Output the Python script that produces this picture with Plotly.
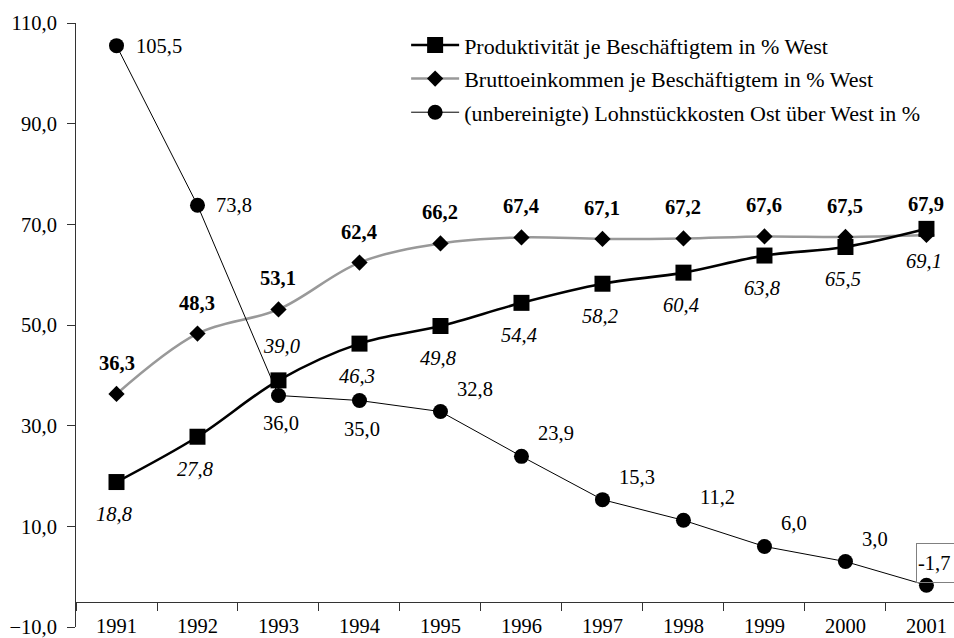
import plotly.graph_objects as go

# ---- data ----
years = ["1991", "1992", "1993", "1994", "1995", "1996", "1997", "1998", "1999", "2000", "2001"]
produktivitaet = [18.8, 27.8, 39.0, 46.3, 49.8, 54.4, 58.2, 60.4, 63.8, 65.5, 69.1]
bruttoeinkommen = [36.3, 48.3, 53.1, 62.4, 66.2, 67.4, 67.1, 67.2, 67.6, 67.5, 67.9]
lohnstueckkosten = [105.5, 73.8, 36.0, 35.0, 32.8, 23.9, 15.3, 11.2, 6.0, 3.0, -1.7]
y_tick_values = [-10, 10, 30, 50, 70, 90, 110]

name_prod = "Produktivität je Beschäftigtem in % West"
name_brutto = "Bruttoeinkommen je Beschäftigtem in % West"
name_lohn = "(unbereinigte) Lohnstückkosten Ost über West in %"

# ---- label placement (style) ----
prod_label_place = ["below"] * 11
prod_label_place[2] = "above"
lohn_label_place = ["right", "right", "below", "below", "upright", "upright",
                    "upright", "upright", "upright", "upright", "boxed"]

FONT = "Liberation Serif, Times New Roman, serif"
FS = 20.5
LEGEND_FS = 22


def fmt(v):
    return f"{v:.1f}".replace(".", ",")


fig = go.Figure()

fig.add_trace(go.Scatter(
    x=years, y=bruttoeinkommen, name=name_brutto, mode="lines+markers",
    line=dict(color="#999999", width=2.5, shape="spline"),
    marker=dict(symbol="diamond", size=12.5, color="black"),
    legendrank=2, legendgroup="b", cliponaxis=False))

fig.add_trace(go.Scatter(
    x=years, y=lohnstueckkosten, name=name_lohn, mode="lines+markers",
    line=dict(color="black", width=1),
    marker=dict(symbol="circle", size=15, color="black"),
    legendrank=3, legendgroup="c", cliponaxis=False))

fig.add_trace(go.Scatter(
    x=years, y=produktivitaet, name=name_prod, mode="lines+markers",
    line=dict(color="black", width=2.6, shape="spline"),
    marker=dict(symbol="square", size=16, color="black"),
    legendrank=1, legendgroup="a", cliponaxis=False))

ann = []
for i, v in enumerate(bruttoeinkommen):
    ann.append(dict(x=i, y=v, xref="x", yref="y", text="<b>" + fmt(v) + "</b>",
                    showarrow=False, xanchor="center", yanchor="middle", yshift=31,
                    font=dict(family=FONT, size=FS, color="black")))

for i, (v, p) in enumerate(zip(produktivitaet, prod_label_place)):
    ann.append(dict(x=i, y=v, xref="x", yref="y", text="<i>" + fmt(v) + "</i>",
                    showarrow=False, xanchor="center", yanchor="middle",
                    xshift=-2 if p == "below" else 3,
                    yshift=-32 if p == "below" else 34,
                    font=dict(family=FONT, size=FS, color="black")))

lohn_offsets = {
    "right": dict(xanchor="left", xshift=17, yshift=0),
    "below": dict(xanchor="center", xshift=3, yshift=-28),
    "upright": dict(xanchor="left", xshift=15, yshift=23),
}
for i, (v, p) in enumerate(zip(lohnstueckkosten, lohn_label_place)):
    if p == "boxed":
        ann.append(dict(x=i, y=v, xref="x", yref="y", text=fmt(v),
                        showarrow=False, xanchor="left", yanchor="bottom",
                        xshift=-10.5, yshift=2, width=62, height=36,
                        align="left", valign="middle", borderpad=1,
                        bordercolor="#808080", borderwidth=1,
                        font=dict(family=FONT, size=FS, color="black")))
    else:
        o = lohn_offsets[p]
        ann.append(dict(x=i, y=v, xref="x", yref="y", text=fmt(v),
                        showarrow=False, yanchor="middle",
                        font=dict(family=FONT, size=FS, color="black"), **o))

fig.update_layout(
    width=954, height=638, autosize=False,
    margin=dict(l=76, r=0, t=23, b=11, pad=0),
    paper_bgcolor="white", plot_bgcolor="white",
    separators=",.",
    font=dict(family=FONT, size=FS, color="black"),
    showlegend=True,
    legend=dict(x=0.376, y=0.998, xanchor="left", yanchor="top",
                bgcolor="rgba(0,0,0,0)", borderwidth=0,
                traceorder="grouped", tracegroupgap=2, itemwidth=48,
                font=dict(family=FONT, size=LEGEND_FS, color="black")),
)
for a in ann:
    fig.add_annotation(**a)

fig.update_xaxes(
    type="category", range=[-0.5, 10.34], tickson="boundaries",
    anchor="free", position=5 / 120,
    ticks="outside", ticklen=8, tickcolor="#333333", tickwidth=1,
    showline=True, linecolor="#333333", linewidth=1,
    showgrid=False, zeroline=False, ticklabeloverflow="allow",
    tickfont=dict(family=FONT, size=FS, color="black"),
    ticklabelstandoff=6,
)
fig.update_yaxes(
    range=[-10, 110], tickmode="array", tickvals=y_tick_values, tickformat=".1f",
    ticks="outside", ticklen=8, tickcolor="#333333", tickwidth=1,
    showline=True, linecolor="#333333", linewidth=1,
    showgrid=False, zeroline=False, ticklabeloverflow="allow",
    tickfont=dict(family=FONT, size=FS, color="black"),
    ticklabelstandoff=6,
)

post = """
document.body.style.margin = '0';
document.body.style.padding = '0';
document.body.style.overflow = 'hidden';
"""
fig.write_html("out.html", post_script=post, config={"displayModeBar": False})
